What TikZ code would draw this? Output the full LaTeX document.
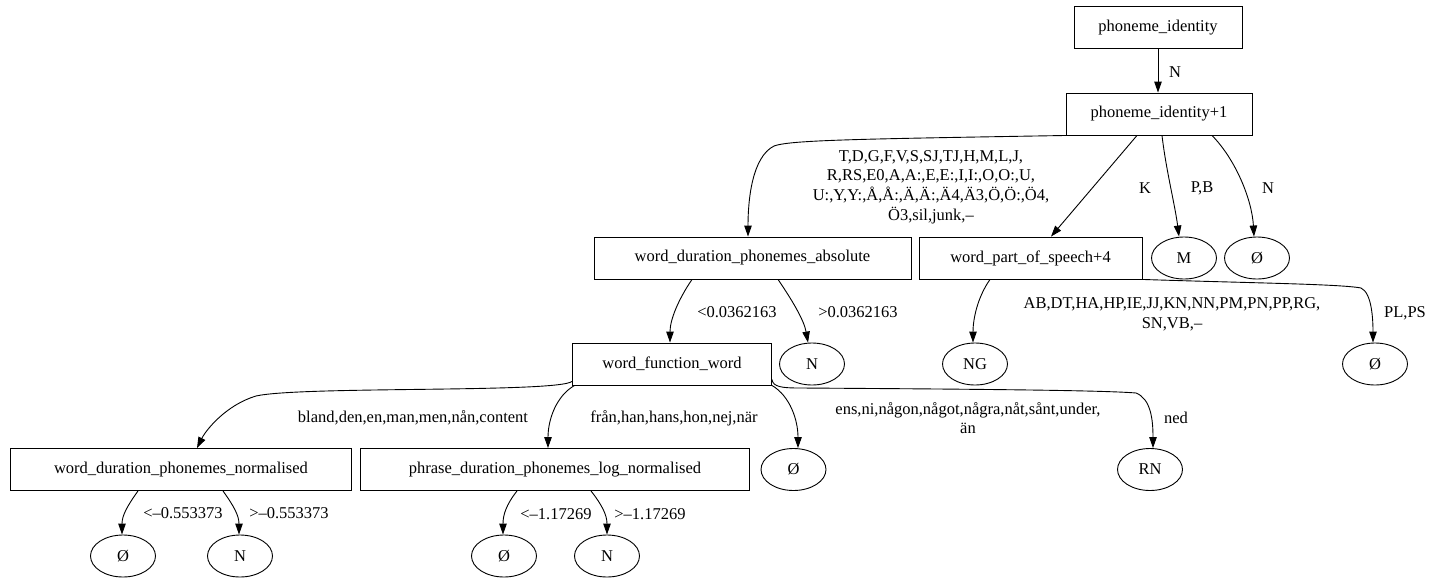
\documentclass[tikz,border=0pt]{standalone}
\usepackage{fontspec}
\setmainfont{Liberation Serif}
\usetikzlibrary{arrows.meta,shapes.geometric}
\begin{document}
\begin{tikzpicture}[x=1pt,y=-1pt,
  font=\fontsize{16.5}{19.7}\selectfont,
  every node/.style={inner sep=0pt},
  tbox/.style={draw, line width=0.9pt, rectangle, minimum height=42pt},
  leaf/.style={draw, line width=0.9pt, ellipse, minimum width=65pt, minimum height=42pt},
  lbl/.style={align=center},
  conn/.style={draw, line width=0.9pt, -{Triangle[length=11pt,width=7.5pt]}}]
\useasboundingbox (0,0) rectangle (1440,578);

% decision nodes and leaves
\node[tbox, minimum width=168pt] (n0) at (1158,27.5) {phoneme\_identity};
\node[tbox, minimum width=186pt] (n1) at (1159,114) {phoneme\_identity+1};
\node[tbox, minimum width=317pt] (n2) at (752.5,258) {word\_duration\_phonemes\_absolute};
\node[tbox, minimum width=223pt] (n3) at (1030.5,258) {word\_part\_of\_speech+4};
\node[leaf] (n4) at (1184,258) {M};
\node[leaf] (n5) at (1257,258) {Ø};
\node[tbox, minimum width=199pt] (n6) at (672,364) {word\_function\_word};
\node[leaf] (n7) at (812,364) {N};
\node[leaf] (n8) at (975,364) {NG};
\node[leaf] (n9) at (1375,364) {Ø};
\node[tbox, minimum width=341pt] (n10) at (181,469.5) {word\_duration\_phonemes\_normalised};
\node[tbox, minimum width=389pt] (n11) at (555,469.5) {phrase\_duration\_phonemes\_log\_normalised};
\node[leaf] (n12) at (793.5,469.5) {Ø};
\node[leaf] (n13) at (1150,469.5) {RN};
\node[leaf] (n14) at (123,556) {Ø};
\node[leaf] (n15) at (240,556) {N};
\node[leaf] (n16) at (504,556) {Ø};
\node[leaf] (n17) at (607,556) {N};

% branches
\draw[conn] (n0.south) -- (n0.south |- n1.north);
\draw[conn] ([xshift=2pt]n1.south west) .. controls (860,139) and (790,140) .. (774,146)
  .. controls (752,157) and (748,200) .. ([xshift=-4.5pt]n2.north);
\draw[conn] ([xshift=-22pt]n1.south) -- ([xshift=20.5pt]n3.north);
\draw[conn] ([xshift=3pt]n1.south) .. controls (1166,170) and (1175,205) .. ([xshift=-5pt]n4.north);
\draw[conn] ([xshift=53pt]n1.south) .. controls (1236,160) and (1252,200) .. ([xshift=-3pt]n5.north);
\draw[conn] ([xshift=-60.5pt]n2.south) .. controls (678,300) and (670,320) .. ([xshift=-2pt]n6.north);
\draw[conn] ([xshift=25.5pt]n2.south) .. controls (792,300) and (804,320) .. ([xshift=-4pt]n7.north);
\draw[conn] ([xshift=-40.5pt]n3.south) .. controls (977,298) and (973,320) .. ([xshift=-2pt]n8.north);
\draw[conn] (n3.south east) .. controls (1250,283) and (1340,284) .. (1361,288)
  .. controls (1372,293) and (1373,320) .. ([xshift=-2pt]n9.north);
\draw[conn] ([yshift=4pt]n6.south west) .. controls (556,393) and (300,386) .. (256,396)
  .. controls (226,405) and (206,430) .. ([xshift=16pt]n10.north);
\draw[conn] ([xshift=2.5pt]n6.south west) .. controls (556,396) and (548,420) .. ([xshift=-7pt]n11.north);
\draw[conn] (n6.south east) .. controls (790,396) and (798,420) .. ([xshift=4.5pt]n12.north);
\draw[conn] ([yshift=6pt]n6.south east) .. controls (773,387) and (782,388) .. (800,388)
  .. controls (950,389) and (1100,390) .. (1136,393)
  .. controls (1151,399) and (1153,420) .. ([xshift=3pt]n13.north);
\draw[conn] ([xshift=-43pt]n10.south) .. controls (128,505) and (122,515) .. ([xshift=-1pt]n14.north);
\draw[conn] ([xshift=42pt]n10.south) .. controls (233,505) and (239,515) .. ([xshift=-1pt]n15.north);
\draw[conn] ([xshift=-38pt]n11.south) .. controls (506,505) and (503,515) .. ([xshift=-1pt]n16.north);
\draw[conn] ([xshift=36pt]n11.south) .. controls (602,505) and (607,515) .. (n17.north);

% branch labels
\node (l0) at (1175,72) {N};
\node[lbl] (l1) at (931,187) {T,D,G,F,V,S,SJ,TJ,H,M,L,J,\\R,RS,E0,A,A:,E,E:,I,I:,O,O:,U,\\U:,Y,Y:,Å,Å:,Ä,Ä:,Ä4,Ä3,Ö,Ö:,Ö4,\\Ö3,sil,junk,–};
\node (l2) at (1145,188) {K};
\node (l3) at (1202,188) {P,B};
\node (l4) at (1268,188) {N};
\node (l5) at (737,312) {<0.0362163};
\node (l6) at (858,312) {>0.0362163};
\node[lbl] (l7) at (1172,314) {AB,DT,HA,HP,IE,JJ,KN,NN,PM,PN,PP,RG,\\SN,VB,–};
\node (l8) at (1405,313) {PL,PS};
\node (l9) at (413,418) {bland,den,en,man,men,nån,content};
\node (l10) at (674,418) {från,han,hans,hon,nej,när};
\node[lbl] (l11) at (968,418) {ens,ni,någon,något,några,nåt,sånt,under,\\än};
\node (l12) at (1176,418) {ned};
\node (l13) at (183,513) {<–0.553373};
\node (l14) at (289,513) {>–0.553373};
\node (l15) at (556,514) {<–1.17269};
\node (l16) at (650,514) {>–1.17269};
\end{tikzpicture}
\end{document}
